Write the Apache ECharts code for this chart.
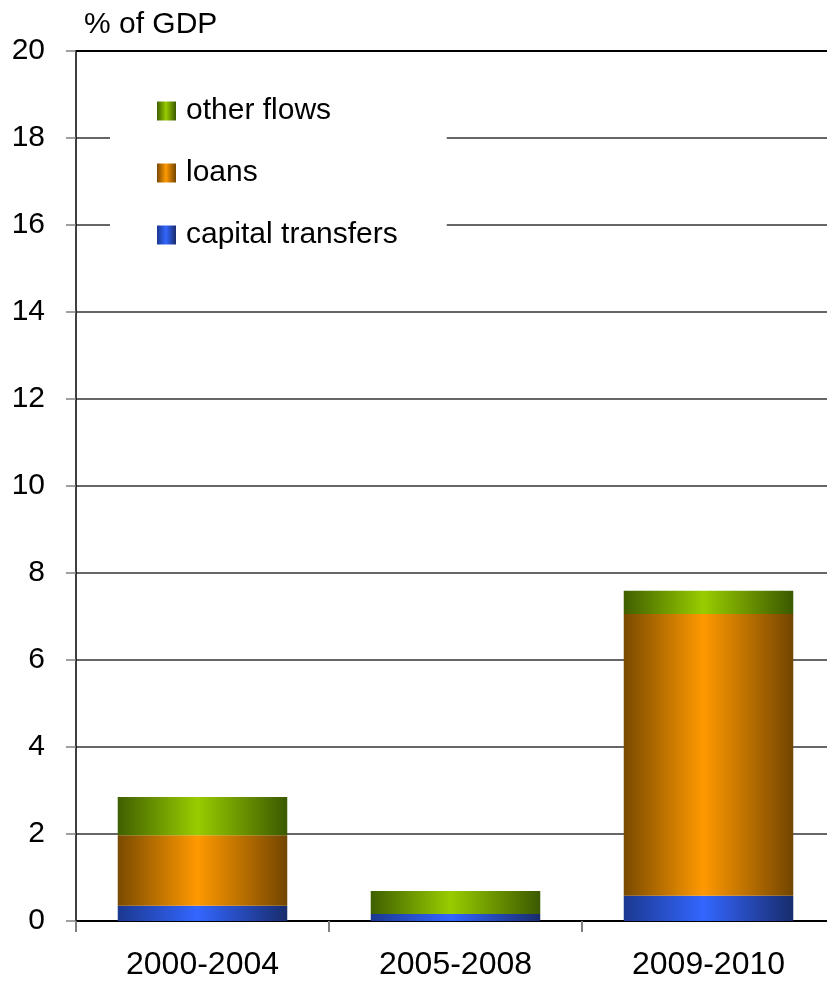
<!DOCTYPE html>
<html>
<head>
<meta charset="utf-8">
<title>% of GDP</title>
<script src="https://cdn.jsdelivr.net/npm/echarts@6/dist/echarts.min.js"></script>
<style>
  html, body { margin: 0; padding: 0; background: #ffffff; overflow: hidden; }
  /* the plot area runs slightly past the right edge of the window */
  #chart { width: 835px; height: 984px; }
</style>
</head>
<body>
<div id="chart"></div>
<script>
// Periods on the horizontal axis
var categories = ['2000-2004', '2005-2008', '2009-2010'];

// Stacked components, % of GDP
var capitalTransfers = [0.35, 0.16, 0.58];
var loans = [1.62, 0.00, 6.48];
var otherFlows = [0.88, 0.53, 0.53];

// Value-axis ticks
var yMin = 0;
var yMax = 20;
var yStep = 2;

// Horizontal shading: dark edges, bright centre
function shade(edgeL, mid, edgeR) {
  return new echarts.graphic.LinearGradient(0, 0, 1, 0, [
    { offset: 0, color: edgeL },
    { offset: 0.47, color: mid },
    { offset: 1, color: edgeR }
  ]);
}

var font = 'Arial, "Liberation Sans", Helvetica, sans-serif';

var chart = echarts.init(document.getElementById('chart'), null, { renderer: 'canvas' });

chart.setOption({
  animation: false,
  backgroundColor: '#ffffff',
  title: {
    text: '% of GDP',
    left: 79,
    top: 5,
    textStyle: { fontFamily: font, fontSize: 30, fontWeight: 'normal', color: '#000000' }
  },
  legend: {
    data: ['other flows', 'loans', 'capital transfers'],
    orient: 'vertical',
    left: 110,
    top: 66,
    padding: [30, 49, 30, 47],
    backgroundColor: '#ffffff',
    icon: 'rect',
    itemWidth: 19,
    itemHeight: 19,
    itemGap: 32,
    textStyle: { fontFamily: font, fontSize: 30, color: '#000000', lineHeight: 30, padding: [0, 0, 0, 5] },
    z: 10
  },
  grid: { left: 76, right: 0, top: 51, bottom: 63, containLabel: false },
  xAxis: [
    {
      type: 'category',
      data: categories,
      position: 'bottom',
      axisLine: { show: true, lineStyle: { color: '#000000', width: 2 } },
      axisTick: { show: true, alignWithLabel: false, length: 11, lineStyle: { color: '#808080', width: 2 } },
      axisLabel: { fontFamily: font, fontSize: 32, color: '#000000', margin: 28 },
      splitLine: { show: false }
    },
    {
      type: 'category',
      data: categories,
      position: 'top',
      axisLine: { show: true, lineStyle: { color: '#000000', width: 2 } },
      axisTick: { show: false },
      axisLabel: { show: false },
      splitLine: { show: false }
    }
  ],
  yAxis: {
    type: 'value',
    min: yMin,
    max: yMax,
    interval: yStep,
    axisLine: { show: true, lineStyle: { color: '#000000', width: 1.5 } },
    axisTick: { show: true, length: 10, lineStyle: { color: '#808080', width: 1.5 } },
    axisLabel: { fontFamily: font, fontSize: 30, color: '#000000', margin: 31 },
    splitLine: { show: true, lineStyle: { color: '#333333', width: 1.5 } }
  },
  series: [
    {
      name: 'capital transfers',
      type: 'bar',
      stack: 'total',
      data: capitalTransfers,
      barCategoryGap: '33%',
      itemStyle: { color: shade('#1b3890', '#3366ff', '#182c6c') }
    },
    {
      name: 'loans',
      type: 'bar',
      stack: 'total',
      data: loans,
      barCategoryGap: '33%',
      itemStyle: { color: shade('#7a4a00', '#ff9900', '#734500') }
    },
    {
      name: 'other flows',
      type: 'bar',
      stack: 'total',
      data: otherFlows,
      barCategoryGap: '33%',
      itemStyle: { color: shade('#3f5f00', '#99cc00', '#3b5900') }
    }
  ]
});
</script>
</body>
</html>
